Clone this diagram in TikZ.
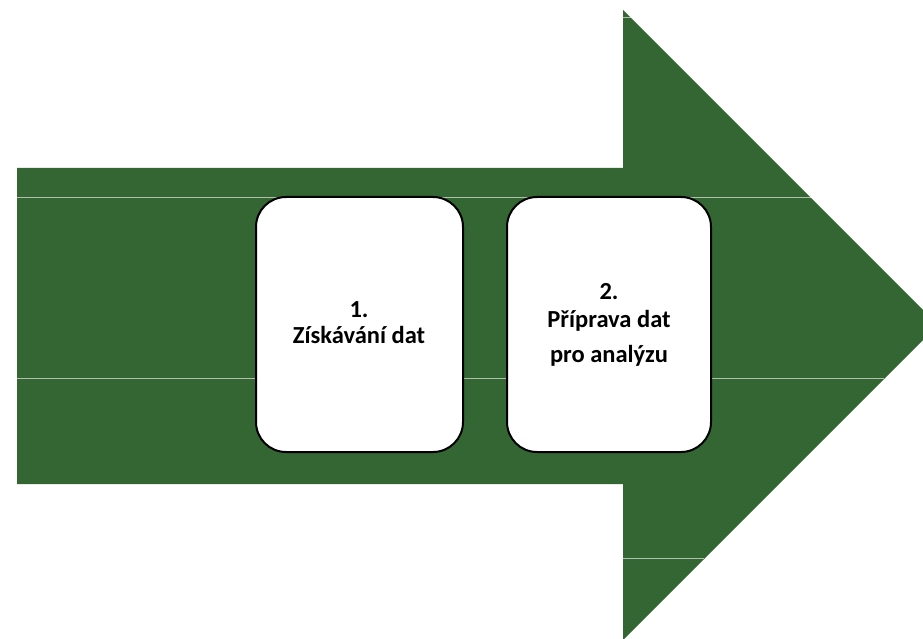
\documentclass[tikz,border=0pt]{standalone}
\usepackage{fontspec}
\setmainfont{Carlito}
\definecolor{arrowgreen}{RGB}{51,102,51}
\tikzset{
  stepbox/.style={draw=black, line width=2pt, fill=white, rounded corners=30pt},
  seam/.style={draw=white, line width=1pt, opacity=0.6},
  lbl/.style={font=\bfseries\fontsize{24.5}{29}\selectfont, anchor=base, inner sep=0pt}
}
\begin{document}
\begin{tikzpicture}[x=1pt,y=-1pt]
\useasboundingbox (0,0) rectangle (923,639);
\clip (0,0) rectangle (923,639);
\fill[arrowgreen] (17,168) -- (623,168) -- (623,10) -- (938,325) -- (623,640) -- (623,484) -- (17,484) -- cycle;
\coordinate (s1a) at (17,198); \coordinate (s1b) at (811,198);
\coordinate (s2a) at (17,378); \coordinate (s2b) at (884,378);
\coordinate (s3a) at (623,18); \coordinate (s3b) at (631,18);
\coordinate (s4a) at (623,558); \coordinate (s4b) at (704,558);
\draw[seam] (s1a) -- (s1b);
\draw[seam] (s2a) -- (s2b);
\draw[seam] (s3a) -- (s3b);
\draw[seam] (s4a) -- (s4b);
\draw[stepbox] (256,197) rectangle (463,452);
\draw[stepbox] (507,197) rectangle (711,452);
\node[lbl] (t1a) at (359,317) {1.};
\node[lbl] (t1b) at (359,343) {Získávání dat};
\node[lbl] (t2a) at (609,299) {2.};
\node[lbl] (t2b) at (609,327) {Příprava dat};
\node[lbl] (t2c) at (609,362) {pro analýzu};
\end{tikzpicture}
\end{document}
